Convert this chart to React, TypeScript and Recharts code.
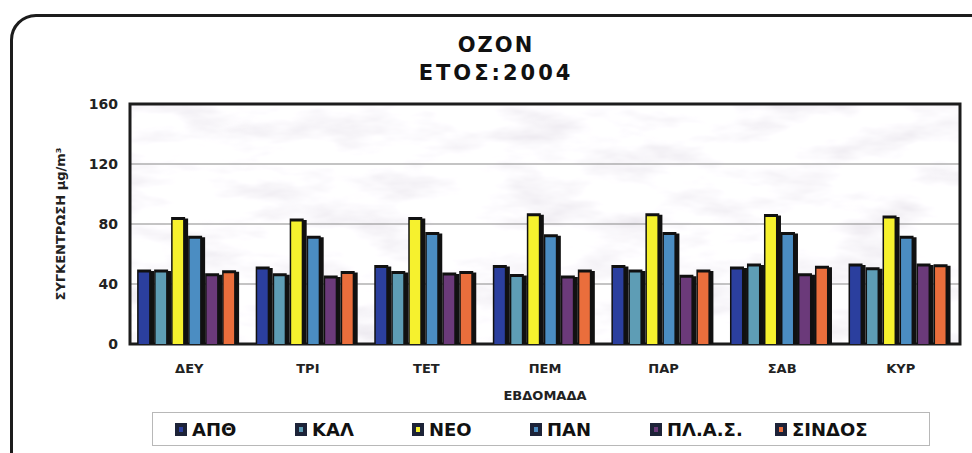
import { BarChart, Bar, XAxis, YAxis, CartesianGrid, ReferenceArea } from "recharts";

// Days of the week (x categories)
const days = ["ΔΕΥ", "ΤΡΙ", "ΤΕΤ", "ΠΕΜ", "ΠΑΡ", "ΣΑΒ", "ΚΥΡ"];

// Station series, μg/m³
const apth = [48, 50, 51, 51, 51, 50, 52];
const kal = [48, 45.5, 47, 45, 48, 52, 49.5];
const neo = [83, 82, 83, 85.5, 85.5, 85, 84];
const pan = [70.5, 70.5, 73, 71.5, 73, 73, 70.5];
const plas = [45.5, 44, 46, 44, 44.5, 45.5, 52];
const sindos = [47.5, 47, 47, 48, 48, 50.5, 51.5];

const yTicks = [0, 40, 80, 120, 160];

const SERIES = [
  { key: "apth", name: "ΑΠΘ", color: "#2b3f9e", values: apth },
  { key: "kal", name: "ΚΑΛ", color: "#5e9db5", values: kal },
  { key: "neo", name: "ΝΕΟ", color: "#f6f12e", values: neo },
  { key: "pan", name: "ΠΑΝ", color: "#4b8dc2", values: pan },
  { key: "plas", name: "ΠΛ.Α.Σ.", color: "#6b3a7a", values: plas },
  { key: "sindos", name: "ΣΙΝΔΟΣ", color: "#ea6e3c", values: sindos },
];

// legend item widths, px
const legendWidths = [120, 117, 118, 120, 125, 140];

const data = days.map((d, i) => {
  const row: Record<string, string | number> = { day: d };
  SERIES.forEach((s) => (row[s.key] = s.values[i]));
  return row;
});

const FONT = "'DejaVu Sans', Verdana, sans-serif";

/** bar with a black outline and a dark shadow on the right */
function ShadowBar(props: any) {
  const { x, y, width, height, fill } = props;
  if (!height || height <= 0) return null;
  const w = width - 3;
  return (
    <g>
      <rect x={x + 3} y={y - 1} width={w} height={height + 1} fill="#111" />
      <rect x={x} y={y - 2.5} width={w} height={height + 2.5} fill="#111" />
      <rect x={x + 1.5} y={y + 0.5} width={w - 3.5} height={height - 0.5} fill={fill} />
    </g>
  );
}

function Legend() {
  return (
    <div
      style={{
        position: "absolute", left: 152, top: 412, width: 778, height: 34,
        border: "1px solid #b8b8b8", background: "#fff", boxSizing: "border-box",
        display: "flex", alignItems: "center", paddingLeft: 22,
        fontFamily: FONT, fontWeight: "bold", fontSize: 18, color: "#111",
      }}
    >
      {SERIES.map((s, i) => (
        <div key={s.key} style={{ display: "flex", alignItems: "center", gap: 5, width: legendWidths[i] }}>
          <div style={{ width: 12, height: 13, background: "#1d2338", display: "flex", alignItems: "center", justifyContent: "center" }}>
            <div style={{ width: 4, height: 5, background: s.color }} />
          </div>
          <span>{s.name}</span>
        </div>
      ))}
    </div>
  );
}

export default function App() {
  return (
    <div style={{ position: "absolute", left: 0, top: 0, width: 972, height: 453, background: "#fff", overflow: "hidden" }}>
      <svg width={0} height={0} style={{ position: "absolute" }}>
        <defs>
          <filter id="marbleNoise" x="0" y="0" width="100%" height="100%">
            <feTurbulence type="fractalNoise" baseFrequency="0.012 0.035" numOctaves={4} seed={7} />
            <feColorMatrix
              type="matrix"
              values="0.4 0 0 0 0.79  0.44 0 0 0 0.76  0.36 0 0 0 0.82  0 0 0 0 1"
            />
          </filter>
          <pattern id="marble" patternUnits="userSpaceOnUse" width={972} height={453}>
            <rect width={972} height={453} filter="url(#marbleNoise)" />
          </pattern>
        </defs>
      </svg>
      <div
        style={{
          position: "absolute", left: 10, top: 14, width: 990, height: 470,
          border: "3px solid #1c1c1c", borderRadius: 26, boxSizing: "border-box",
        }}
      />
      <div
        style={{
          position: "absolute", left: 0, top: 31, width: 992, textAlign: "center",
          fontFamily: FONT, fontWeight: "bold", fontSize: 21, lineHeight: "28px", color: "#111",
        }}
      >
        <div style={{ letterSpacing: 2 }}>OZON</div>
        <div style={{ letterSpacing: 3 }}>ΕΤΟΣ:2004</div>
      </div>
      <div style={{ position: "absolute", left: 0, top: 0 }}>
        <BarChart
          width={972}
          height={453}
          data={data}
          margin={{ top: 104, right: 12, bottom: 0, left: 70 }}
          barCategoryGap="6%"
          barGap={0}
        >
          <CartesianGrid vertical={false} stroke="#8a8a8a" strokeWidth={1.2} fill="url(#marble)" fillOpacity={1} />
          <XAxis
            dataKey="day"
            height={109}
            axisLine={false}
            tickLine={false}
            tick={{ fontFamily: FONT, fontWeight: "bold", fontSize: 13, fill: "#222" }}
            tickMargin={14}
            label={{ value: "ΕΒΔΟΜΑΔΑ", position: "insideTop", offset: 47, style: { fontFamily: FONT, fontWeight: "bold", fontSize: 13, fill: "#222" } }}
          />
          <YAxis
            width={60}
            domain={[0, 160]}
            ticks={yTicks}
            axisLine={false}
            tickLine={false}
            tick={{ fontFamily: FONT, fontWeight: "bold", fontSize: 14, fill: "#222" }}
            tickMargin={6}
            label={{
              value: "ΣΥΓΚΕΝΤΡΩΣΗ μg/m³", angle: -90, position: "insideLeft", offset: -10,
              style: { fontFamily: FONT, fontWeight: "bold", fontSize: 13, fill: "#222", textAnchor: "middle" },
            }}
          />
          <ReferenceArea y1={0} y2={160} fill="none" stroke="#1c1c1c" strokeWidth={3} ifOverflow="visible" />
          {SERIES.map((s) => (
            <Bar key={s.key} dataKey={s.key} name={s.name} fill={s.color} shape={ShadowBar} isAnimationActive={false} />
          ))}
        </BarChart>
      </div>
      <Legend />
    </div>
  );
}
